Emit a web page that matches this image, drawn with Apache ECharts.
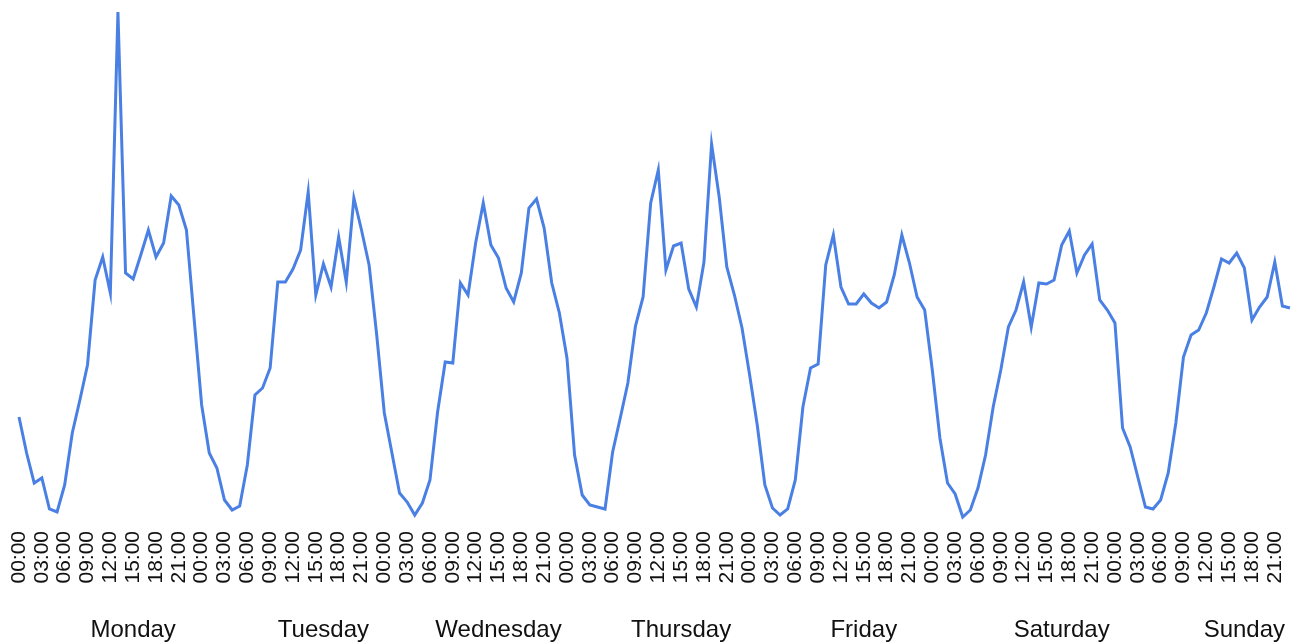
<!DOCTYPE html>
<html>
<head>
<meta charset="utf-8">
<script src="https://cdn.jsdelivr.net/npm/echarts@6/dist/echarts.min.js"></script>
<style>
html,body{margin:0;padding:0;background:#fff;}
#chart{width:1303px;height:643px;}
</style>
</head>
<body>
<div id="chart"></div>
<script>
// Day names and hour tick labels
const days = ['Monday','Tuesday','Wednesday','Thursday','Friday','Saturday','Sunday'];
const hours = ['00:00','01:00','02:00','03:00','04:00','05:00','06:00','07:00','08:00','09:00','10:00','11:00',
               '12:00','13:00','14:00','15:00','16:00','17:00','18:00','19:00','20:00','21:00','22:00','23:00'];

// Hourly values per day (arbitrary units)
const monday    = [103, 67, 37, 42, 11, 8, 35, 87, 120, 155, 240, 263, 227, 508, 247, 241, 265, 290, 263, 277, 324, 315, 290, 202];
const tuesday   = [115, 67, 52, 20, 10, 14, 55, 125, 132, 152, 238, 238, 251, 270, 328, 225, 256, 233, 283, 238, 322, 290, 255, 185];
const wednesday = [107, 67, 27, 18, 5, 17, 40, 108, 158, 157, 237, 225, 277, 317, 275, 262, 232, 218, 247, 312, 321, 292, 237, 207];
const thursday  = [162, 65, 25, 15, 13, 11, 68, 102, 137, 194, 223, 317, 350, 250, 274, 277, 231, 213, 258, 376, 323, 253, 225, 192];
const friday    = [145, 95, 35, 12, 5, 11, 40, 113, 152, 156, 255, 285, 233, 216, 216, 226, 217, 212, 218, 245, 285, 257, 223, 210];
const saturday  = [150, 82, 37, 26, 3, 10, 32, 65, 113, 150, 193, 210, 238, 193, 237, 236, 240, 275, 289, 247, 265, 276, 220, 210];
const sunday    = [197, 92, 73, 43, 13, 11, 20, 47, 97, 163, 185, 190, 207, 233, 261, 257, 267, 252, 200, 213, 223, 258, 214, 212];

const weekData = [monday, tuesday, wednesday, thursday, friday, saturday, sunday];

const categories = [];
const values = [];
weekData.forEach((d, di) => {
  d.forEach((v, h) => {
    categories.push(days[di] + ' ' + hours[h]);
    values.push(v);
  });
});

// Hour within each day at which the day name is drawn (layout only)
const dayLabelHour = [15, 16, 15, 15, 15, 17, 17];

const chart = echarts.init(document.getElementById('chart'), null, {renderer: 'canvas'});
const fontFamily = '"Liberation Sans", Arial, Helvetica, sans-serif';

chart.setOption({
  animation: false,
  backgroundColor: '#ffffff',
  grid: {left: 19, right: 13, top: 10, bottom: 123, containLabel: false},
  xAxis: [
    {
      type: 'category',
      data: categories,
      boundaryGap: false,
      position: 'bottom',
      axisLine: {show: false},
      axisTick: {show: false},
      splitLine: {show: false},
      axisLabel: {
        interval: 2,
        rotate: 90,
        margin: 11,
        fontSize: 21,
        color: '#111',
        fontFamily: fontFamily,
        formatter: (val, idx) => hours[idx % 24]
      }
    },
    {
      type: 'category',
      data: categories,
      boundaryGap: false,
      position: 'bottom',
      offset: 90,
      axisLine: {show: false},
      axisTick: {show: false},
      splitLine: {show: false},
      axisLabel: {
        interval: (idx) => idx % 24 === dayLabelHour[Math.floor(idx / 24)],
        margin: 8,
        fontSize: 24,
        color: '#111',
        fontFamily: fontFamily,
        formatter: (val, idx) => days[Math.floor(idx / 24)]
      }
    }
  ],
  yAxis: {
    type: 'value',
    min: 0,
    max: 510,
    show: false
  },
  series: [{
    type: 'line',
    data: values,
    xAxisIndex: 0,
    showSymbol: false,
    lineStyle: {color: '#4a80e4', width: 3, join: 'miter'},
    itemStyle: {color: '#4a80e4'}
  }]
});
</script>
</body>
</html>
